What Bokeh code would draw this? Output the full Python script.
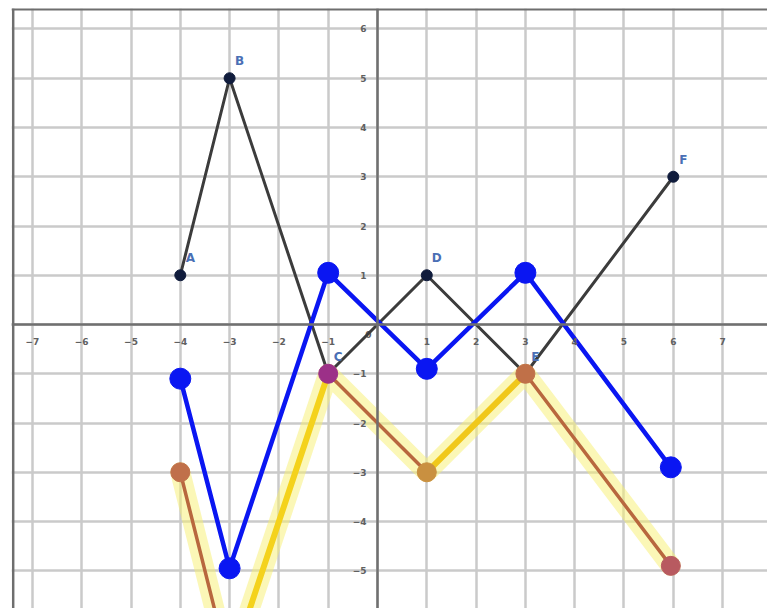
from bokeh.plotting import figure
from bokeh.models import FixedTicker, Span, Range1d
from bokeh.core.properties import value
from bokeh.embed import file_html
from bokeh.resources import INLINE

# ---- data ----
tick_x = [-7, -6, -5, -4, -3, -2, -1, 1, 2, 3, 4, 5, 6, 7]
tick_y = [-5, -4, -3, -2, -1, 1, 2, 3, 4, 5, 6]
grid_vals = list(range(-8, 9))

black_x = [-4, -3, -1, 1, 3, 6]
black_y = [1, 5, -1, 1, -1, 3]
black_labels = ["A", "B", "C", "D", "E", "F"]

blue_x = [-4, -3, -1, 1, 3, 5.95]
blue_y = [-1.1, -4.95, 1.05, -0.9, 1.05, -2.9]

brown_x = [-4, -3, -1, 1, 3, 5.95]
brown_y = [-3, -7, -1, -3, -1, -4.9]
brown_dot_colors = ["#c0704a", None, "#9c3088", "#c99040", "#c07048", "#b85a60"]

p = figure(width=767, height=608, output_backend="svg", toolbar_location=None,
           x_range=Range1d(-7.424, 7.911), y_range=Range1d(-5.766, 6.416),
           min_border_left=11, min_border_right=0, min_border_top=8, min_border_bottom=0,
           background_fill_color="white", border_fill_color="white")
p.outline_line_color = None

# axes through the origin
p.xaxis.fixed_location = 0
p.yaxis.fixed_location = 0
for ax in (p.xaxis, p.yaxis):
    ax.axis_line_color = "#707070"
    ax.axis_line_width = 2.5
    ax.major_tick_line_color = None
    ax.minor_tick_line_color = None
    ax.major_label_text_font_size = "9px"
    ax.major_label_text_color = "#606060"
    ax.major_label_text_font_style = "bold"
    ax.major_label_text_font = "DejaVu Sans"
p.xaxis.ticker = FixedTicker(ticks=tick_x)
p.yaxis.ticker = FixedTicker(ticks=tick_y)
p.xaxis.major_label_standoff = 7
p.yaxis.major_label_standoff = 5

p.xgrid.ticker = FixedTicker(ticks=grid_vals)
p.ygrid.ticker = FixedTicker(ticks=grid_vals)
for g in (p.xgrid, p.ygrid):
    g.grid_line_color = "#cacaca"
    g.grid_line_width = 2.5

# frame border (top and left)
p.add_layout(Span(location=6.40, dimension="width", line_color="#6e6e6e", line_width=2.5))
p.add_layout(Span(location=-7.39, dimension="height", line_color="#6e6e6e", line_width=2.5))

# origin label
p.text(x=[0], y=[0], text=["0"], x_offset=-9, y_offset=10, text_font_size="9px",
       text_color="#606060", text_font_style="bold", text_align="center",
       text_baseline="middle", text_font=value("DejaVu Sans"))

# black polyline with labelled points
p.line(black_x, black_y, line_color="#3c3c3c", line_width=3, line_join="round")
p.scatter(black_x, black_y, size=11, fill_color="#101c3c", line_color="#101c3c")
p.text(x=black_x, y=black_y, text=black_labels, x_offset=10, y_offset=-17,
       text_font_size="12px", text_color="#4a6fb5", text_font_style="bold",
       text_align="center", text_baseline="middle", text_font=value("DejaVu Sans"))

# yellow highlighter glow
p.line(brown_x, brown_y, line_color="#f7f070", line_alpha=0.5, line_width=20,
       line_join="round", line_cap="round")
# brown line
p.line(brown_x, brown_y, line_color="#b8673e", line_width=3.5, line_join="round")
# solid gold strokes
p.line(brown_x[1:3], brown_y[1:3], line_color="#f4d21c", line_width=6, line_cap="round")
p.line(brown_x[3:5], brown_y[3:5], line_color="#f0c81a", line_width=6, line_cap="round")
# brown dots
dx = [x for x, c in zip(brown_x, brown_dot_colors) if c]
dy = [y for y, c in zip(brown_y, brown_dot_colors) if c]
dc = [c for c in brown_dot_colors if c]
p.scatter(dx, dy, size=19, fill_color=dc, line_color=dc)

# blue line
p.line(blue_x, blue_y, line_color="#0a16f2", line_width=4.5, line_join="round")
p.scatter(blue_x, blue_y, size=21, fill_color="#0a16f2", line_color="#0a16f2")

open("out.html", "w").write(file_html(p, INLINE))
